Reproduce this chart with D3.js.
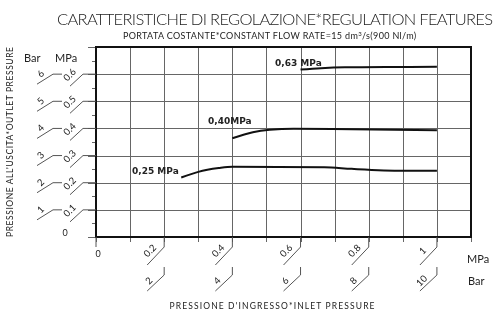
<!DOCTYPE html>
<html>
<head>
<meta charset="utf-8" />
<title></title>
<style>
html, body {
    padding: 0px;
    margin: 0px;
    background: #fff;
}
#wrap {
    position: relative;
    width: 498px;
    height: 312px;
}
#grid, #chart {
    position: absolute;
    left: 0px;
    top: 0px;
}
text {
    font-family: "Lato", "Open Sans", sans-serif;
    fill: #222;
}
</style>
</head>
<body>
<div id="wrap">
<canvas id="grid" width="498" height="312"></canvas>
<svg id="chart" width="498" height="312"></svg>
</div>

<script src="https://cdnjs.cloudflare.com/ajax/libs/d3/7.8.5/d3.min.js"></script>
<script>
!(function(){
    "use strict";

    // ticks (MPa) and their bar equivalents
    var xTicksMPa = [0.2, 0.4, 0.6, 0.8, 1.0];
    var xLabelsMPa = ["0.2", "0.4", "0.6", "0.8", "1"];
    var xLabelsBar = ["2", "4", "6", "8", "10"];
    var yTicksMPa = [0.1, 0.2, 0.3, 0.4, 0.5, 0.6];
    var yLabelsMPa = ["0.1", "0.2", "0.3", "0.4", "0.5", "0.6"];
    var yLabelsBar = ["1", "2", "3", "4", "5", "6"];

    // grid steps (MPa)
    var gridMPaX = [0, 0.1, 0.2, 0.3, 0.4, 0.5, 0.6, 0.7, 0.8, 0.9, 1.0, 1.1];
    var gridMPaY = [0, 0.1, 0.2, 0.3, 0.4, 0.5, 0.6, 0.7];
    var minorMPaY = [0.05, 0.15, 0.25, 0.35, 0.45, 0.55, 0.65];

    // curves: [inlet MPa, outlet MPa]
    var curve063 = [[0.60, 0.617], [0.66, 0.622], [0.73, 0.625], [0.85, 0.626], [1.0, 0.627]];
    var curve040 = [[0.40, 0.364], [0.46, 0.386], [0.51, 0.395], [0.58, 0.399], [0.75, 0.397], [1.0, 0.393]];
    var curve025 = [[0.25, 0.219], [0.30, 0.240], [0.36, 0.254], [0.40, 0.259], [0.67, 0.257], [0.75, 0.251], [0.90, 0.244], [1.0, 0.244]];
    var curveNames = ["0,63 MPa", "0,40MPa", "0,25 MPa"];

    var svg = d3.select("#chart");

    var x = d3.scaleLinear().domain([0, 1.1]).range([96, 471]);
    var y = d3.scaleLinear().domain([0, 0.7]).range([237, 47]);

    // grid and frame on a canvas under the svg
    var ctx = d3.select("#grid").node().getContext("2d");
    ctx.lineWidth = 1;
    ctx.strokeStyle = "#666";
    ctx.beginPath();
    gridMPaX.forEach(function(d){
        var px = Math.round(x(d)) + 0.5;
        ctx.moveTo(px, y(0.7));
        ctx.lineTo(px, y(0) + 5);
    });
    gridMPaY.forEach(function(d){
        var py = Math.round(y(d)) + 0.5;
        ctx.moveTo(x(0) - 8, py);
        ctx.lineTo(x(1.1), py);
    });
    minorMPaY.forEach(function(d){
        var py = Math.round(y(d)) + 0.5;
        ctx.moveTo(x(0) - 4, py);
        ctx.lineTo(x(0), py);
    });
    ctx.stroke();

    ctx.lineWidth = 2;
    ctx.strokeStyle = "#111";
    ctx.strokeRect(x(0), y(0.7), x(1.1) - x(0), y(0) - y(0.7));

    // titles
    svg.append("text")
        .attr("x", 275).attr("y", 25)
        .attr("text-anchor", "middle")
        .attr("textLength", 436)
        .style("font-size", "16.5px")
        .style("font-weight", 300)
        .text("CARATTERISTICHE DI REGOLAZIONE*REGULATION FEATURES");

    var sub = svg.append("text")
        .attr("x", 123).attr("y", 39)
        .style("font-size", "9px")
        .style("letter-spacing", "0.35px");
    sub.append("tspan").text("PORTATA COSTANTE*CONSTANT FLOW RATE=15 dm");
    sub.append("tspan").attr("dy", -3).style("font-size", "6px").text("3");
    sub.append("tspan").attr("dy", 3).text("/s(900 Nl/m)");

    // 0 tick below the frame
    svg.append("path")
        .attr("d", "M" + x(0) + "," + y(0) + "V" + (y(0) + 10))
        .attr("fill", "none").attr("stroke", "#555").attr("stroke-width", 1);

    // x axis labels with slanted leaders
    var xg = svg.append("g").selectAll("g").data(xTicksMPa).enter().append("g")
        .attr("transform", function(d){ return "translate(" + x(d) + ",0)"; });
    xg.append("path")
        .attr("d", "M0," + y(0) + "V247L-17,265")
        .attr("fill", "none").attr("stroke", "#555").attr("stroke-width", 1);
    xg.append("path")
        .attr("d", "M0,267V275L-17,291")
        .attr("fill", "none").attr("stroke", "#555").attr("stroke-width", 1);
    xg.append("text")
        .attr("transform", "translate(-12,253) rotate(-45)")
        .attr("text-anchor", "middle")
        .style("font-size", "9.5px")
        .text(function(d, i){ return xLabelsMPa[i]; });
    xg.append("text")
        .attr("transform", "translate(-13,283) rotate(-45)")
        .attr("text-anchor", "middle")
        .style("font-size", "9.5px")
        .text(function(d, i){ return xLabelsBar[i]; });

    svg.append("text").attr("x", x(0) + 2).attr("y", 257)
        .attr("text-anchor", "middle").style("font-size", "9px").text("0");

    // y axis labels with slanted leaders
    var yg = svg.append("g").selectAll("g").data(yTicksMPa).enter().append("g")
        .attr("transform", function(d){ return "translate(0," + y(d) + ")"; });
    yg.append("path")
        .attr("d", "M" + x(0) + ",0H83L70,12")
        .attr("fill", "none").attr("stroke", "#555").attr("stroke-width", 1);
    yg.append("path")
        .attr("d", "M62,0H53L37,10")
        .attr("fill", "none").attr("stroke", "#555").attr("stroke-width", 1);
    yg.append("text")
        .attr("transform", "translate(72,3) rotate(-45)")
        .attr("text-anchor", "middle")
        .style("font-size", "9.5px")
        .text(function(d, i){ return yLabelsMPa[i]; });
    yg.append("text")
        .attr("transform", "translate(43,2) rotate(-45)")
        .attr("text-anchor", "middle")
        .style("font-size", "9.5px")
        .text(function(d, i){ return yLabelsBar[i]; });

    svg.append("text").attr("x", 65).attr("y", 236)
        .attr("text-anchor", "middle").style("font-size", "9px").text("0");

    // unit labels
    svg.append("text").attr("x", 24).attr("y", 62).style("font-size", "11px").text("Bar");
    svg.append("text").attr("x", 55).attr("y", 62).style("font-size", "11px").text("MPa");
    svg.append("text").attr("x", 467).attr("y", 263).style("font-size", "11px").text("MPa");
    svg.append("text").attr("x", 468).attr("y", 285).style("font-size", "11px").text("Bar");

    // axis titles
    svg.append("text")
        .attr("x", 272).attr("y", 309)
        .attr("text-anchor", "middle")
        .attr("textLength", 205)
        .style("font-size", "8.5px")
        .text("PRESSIONE D'INGRESSO*INLET PRESSURE");

    svg.append("text")
        .attr("transform", "translate(13,142) rotate(-90)")
        .attr("text-anchor", "middle")
        .attr("textLength", 190)
        .style("font-size", "8.5px")
        .text("PRESSIONE ALL'USCITA*OUTLET PRESSURE");

    // curves
    var line = d3.line()
        .x(function(d){ return x(d[0]); })
        .y(function(d){ return y(d[1]); })
        .curve(d3.curveMonotoneX);

    var curves = [curve063, curve040, curve025];
    svg.selectAll("path.curve").data(curves).enter().append("path")
        .attr("class", "curve")
        .attr("fill", "none")
        .attr("stroke", "#111")
        .attr("stroke-width", 2)
        .attr("d", line);

    var labelPos = [[275, 66], [208, 124], [132, 174]];
    svg.selectAll("text.clab").data(curveNames).enter().append("text")
        .attr("class", "clab")
        .attr("x", function(d, i){ return labelPos[i][0]; })
        .attr("y", function(d, i){ return labelPos[i][1]; })
        .style("font-family", "'DejaVu Sans', sans-serif")
        .style("font-weight", "bold")
        .style("font-size", "9px")
        .text(function(d){ return d; });

}());
</script>
</body>
</html>
